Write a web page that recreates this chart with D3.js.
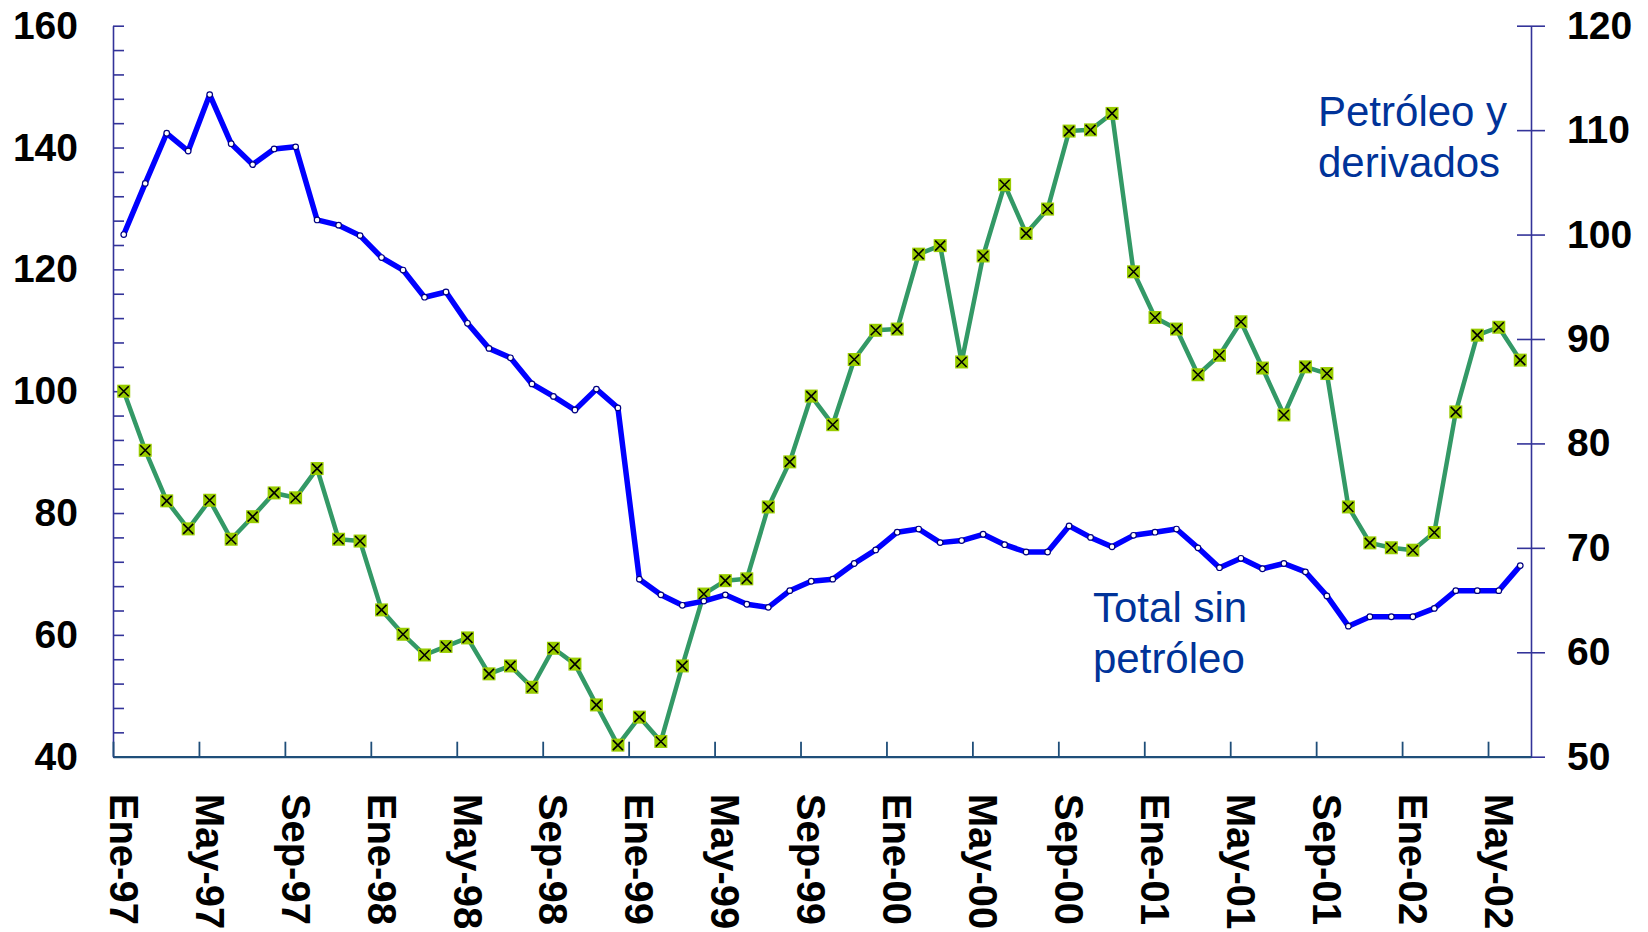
<!DOCTYPE html>
<html>
<head>
<meta charset="utf-8">
<script src="https://cdn.jsdelivr.net/npm/d3@7/dist/d3.min.js"></script>
<style>
  html, body { margin: 0; padding: 0; background: #ffffff; }
  svg { display: block; }
  text { font-family: "Liberation Sans", Arial, Helvetica, sans-serif; }
</style>
</head>
<body>
<svg id="chart" width="1648" height="932"></svg>
<script>
// ---- Data ----
const categories = [
  "Ene-97","Feb-97","Mar-97","Abr-97","May-97","Jun-97","Jul-97","Ago-97","Sep-97","Oct-97","Nov-97","Dic-97",
  "Ene-98","Feb-98","Mar-98","Abr-98","May-98","Jun-98","Jul-98","Ago-98","Sep-98","Oct-98","Nov-98","Dic-98",
  "Ene-99","Feb-99","Mar-99","Abr-99","May-99","Jun-99","Jul-99","Ago-99","Sep-99","Oct-99","Nov-99","Dic-99",
  "Ene-00","Feb-00","Mar-00","Abr-00","May-00","Jun-00","Jul-00","Ago-00","Sep-00","Oct-00","Nov-00","Dic-00",
  "Ene-01","Feb-01","Mar-01","Abr-01","May-01","Jun-01","Jul-01","Ago-01","Sep-01","Oct-01","Nov-01","Dic-01",
  "Ene-02","Feb-02","Mar-02","Abr-02","May-02","Jun-02"
];

// Petróleo y derivados (left axis)
const petroleo = [
  100.0, 90.3, 82.0, 77.4, 82.1, 75.7, 79.4, 83.3, 82.5, 87.3, 75.7, 75.4,
  64.1, 60.1, 56.7, 58.1, 59.5, 53.6, 54.9, 51.4, 57.8, 55.2, 48.5, 41.9,
  46.5, 42.5, 54.9, 66.7, 68.9, 69.2, 81.0, 88.4, 99.2, 94.5, 105.2, 110.0,
  110.2, 122.5, 123.9, 104.8, 122.2, 133.9, 125.9, 129.9, 142.7, 142.9, 145.6, 119.6,
  112.1, 110.2, 102.7, 105.9, 111.4, 103.8, 96.1, 104.0, 102.9, 81.0, 75.1, 74.3,
  73.9, 76.8, 96.6, 109.2, 110.5, 105.1
];

// Total sin petróleo (right axis)
const totalSinPetroleo = [
  100.0, 104.9, 109.7, 108.0, 113.4, 108.7, 106.7, 108.2, 108.4, 101.4, 100.9, 99.9,
  97.8, 96.6, 94.0, 94.5, 91.5, 89.1, 88.2, 85.7, 84.5, 83.2, 85.2, 83.4,
  67.0, 65.5, 64.5, 64.9, 65.5, 64.6, 64.3, 65.9, 66.8, 67.0, 68.5, 69.8,
  71.5, 71.8, 70.5, 70.7, 71.3, 70.3, 69.6, 69.6, 72.1, 71.0, 70.1, 71.2,
  71.5, 71.8, 70.0, 68.1, 69.0, 68.0, 68.5, 67.7, 65.4, 62.5, 63.4, 63.4,
  63.4, 64.2, 65.9, 65.9, 65.9, 68.3
];

const leftTicks = [40, 60, 80, 100, 120, 140, 160];
const rightTicks = [50, 60, 70, 80, 90, 100, 110, 120];
const labelPetroleo = ["Petróleo y", "derivados"];
const labelTotal = ["Total sin", "petróleo"];

// ---- Layout ----
const svg = d3.select("#chart");
const L = 113, R = 1531, T = 25.7, B = 756.7;
const font = '"Liberation Sans", Arial, Helvetica, sans-serif';

const x = d3.scaleBand().domain(categories).range([L, R]).paddingInner(0).paddingOuter(0);
const xIdx = d3.scaleLinear().domain([0, categories.length]).range([L, R]);
const cx = d => x(d) + x.bandwidth() / 2;

const yL = d3.scaleLinear().domain([40, 160]).range([B, T]);
const yR = d3.scaleLinear().domain([50, 120]).range([B, T]);

// ---- Left axis ----
const gL = svg.append("g").attr("transform", `translate(${L},0)`)
  .call(d3.axisLeft(yL)
    .tickValues(d3.range(40, 161, 4))
    .tickSizeInner(-11).tickSizeOuter(0).tickPadding(35)
    .tickFormat(d => leftTicks.includes(d) ? d : ""));
gL.select(".domain").attr("stroke", "#333399").attr("stroke-width", 1.6);
gL.selectAll(".tick line").attr("stroke", "#333399").attr("stroke-width", 1.6);
gL.selectAll(".tick text").attr("fill", "#000").attr("font-family", font)
  .attr("font-size", 39).attr("font-weight", "bold");

// ---- Right axis ----
const gR = svg.append("g").attr("transform", `translate(${R},0)`)
  .call(d3.axisRight(yR)
    .tickValues(rightTicks)
    .tickSizeInner(14).tickSizeOuter(0).tickPadding(22)
    .tickFormat(d => d));
gR.select(".domain").attr("stroke", "#333399").attr("stroke-width", 1.6);
gR.selectAll(".tick line").attr("x1", -14).attr("stroke", "#333399").attr("stroke-width", 1.6);
gR.selectAll(".tick text").attr("fill", "#000").attr("font-family", font)
  .attr("font-size", 39).attr("font-weight", "bold");

// ---- X axis (ticks between categories) ----
const gX = svg.append("g").attr("transform", `translate(0,${B})`)
  .call(d3.axisBottom(xIdx)
    .tickValues(d3.range(0, categories.length, 4))
    .tickSizeInner(-15).tickSizeOuter(0)
    .tickFormat(""));
gX.select(".domain").attr("stroke", "#1f4e79").attr("stroke-width", 2.2);
gX.selectAll(".tick line").attr("stroke", "#1f4e79").attr("stroke-width", 1.8);

// X labels, every 4th category, rotated
const labelCats = categories.filter((d, i) => i % 4 === 0);
const gXL = svg.append("g").attr("transform", `translate(0,${B})`)
  .call(d3.axisBottom(x).tickValues(labelCats).tickSize(0).tickPadding(0));
gXL.select(".domain").remove();
gXL.selectAll(".tick text")
  .attr("font-family", font).attr("font-size", 40).attr("font-weight", "bold")
  .attr("fill", "#000")
  .attr("text-anchor", "start")
  .attr("dominant-baseline", "central")
  .attr("dy", null)
  .attr("y", 0).attr("x", 0)
  .attr("transform", "translate(0,37) rotate(90)");

// ---- Green series: Petróleo y derivados ----
const lineL = d3.line().x((d, i) => cx(categories[i])).y(d => yL(d));
svg.append("path").datum(petroleo)
  .attr("d", lineL).attr("fill", "none")
  .attr("stroke", "#339966").attr("stroke-width", 4.5).attr("stroke-linejoin", "round");

const gm = svg.append("g").selectAll("g").data(petroleo).join("g")
  .attr("transform", (d, i) => `translate(${cx(categories[i])},${yL(d)})`);
gm.append("rect").attr("x", -6.5).attr("y", -6.5).attr("width", 13).attr("height", 13)
  .attr("fill", "#99cc00");
gm.append("path").attr("d", "M-5,-5L5,5M5,-5L-5,5")
  .attr("stroke", "#000").attr("stroke-width", 1.6).attr("fill", "none");

// ---- Blue series: Total sin petróleo ----
const lineR = d3.line().x((d, i) => cx(categories[i])).y(d => yR(d));
svg.append("path").datum(totalSinPetroleo)
  .attr("d", lineR).attr("fill", "none")
  .attr("stroke", "#0000ff").attr("stroke-width", 5.5).attr("stroke-linejoin", "round");

svg.append("g").selectAll("circle").data(totalSinPetroleo).join("circle")
  .attr("cx", (d, i) => cx(categories[i])).attr("cy", d => yR(d))
  .attr("r", 2.8).attr("fill", "#fff").attr("stroke", "#000080").attr("stroke-width", 1.2);

// ---- Series labels ----
const lab1 = svg.append("text").attr("x", 1318).attr("y", 126)
  .attr("font-family", font).attr("font-size", 42).attr("fill", "#003399");
labelPetroleo.forEach((t, i) => lab1.append("tspan").attr("x", 1318).attr("dy", i === 0 ? 0 : 51).text(t));

const lab2 = svg.append("text").attr("x", 1093).attr("y", 622)
  .attr("font-family", font).attr("font-size", 42).attr("fill", "#003399");
labelTotal.forEach((t, i) => lab2.append("tspan").attr("x", 1093).attr("dy", i === 0 ? 0 : 51).text(t));
</script>
</body>
</html>
